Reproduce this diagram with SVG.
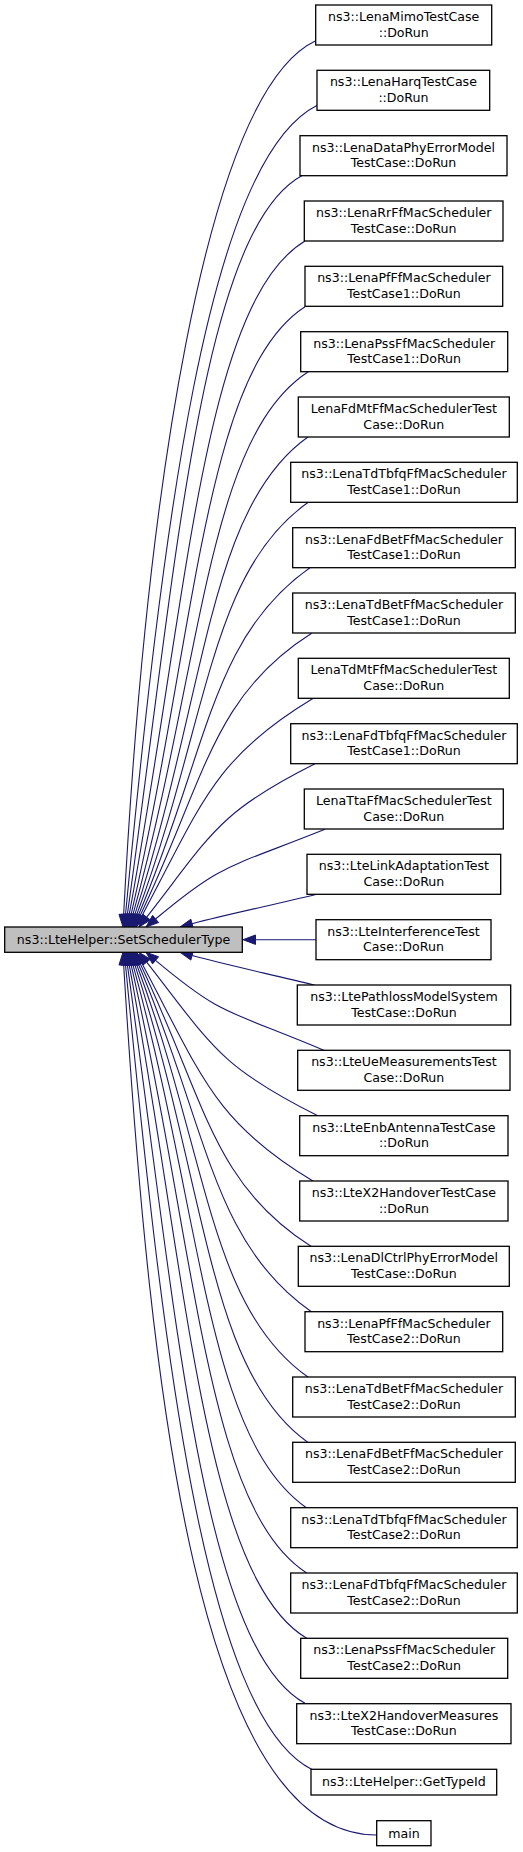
<svg xmlns="http://www.w3.org/2000/svg" width="523" height="1852" viewBox="0 0 523 1852">
<style>
.node rect{fill:#ffffff;stroke:#000000;stroke-width:1.3}
.node.main rect{fill:#bfbfbf}
text{font-family:"DejaVu Sans","Liberation Sans",sans-serif;font-size:12.6px;text-anchor:middle;fill:#000000}
#edges path{fill:none;stroke:#191970;stroke-width:1.1}
#edges polygon{fill:#191970;stroke:#191970;stroke-width:1}
</style>
<rect width="523" height="1852" fill="#ffffff"/>
<g id="edges">
<path d="M315.7,40.7 C204.3,93.1 145.2,503.5 123.65,914.52"/><polygon points="123,927 128.34,914.77 118.96,914.27"/>
<path d="M317.3,105.3 C206.1,160.9 162.2,533.8 125.5,914.56"/><polygon points="124.3,927 130.18,915.01 120.82,914.11"/>
<path d="M301.7,175.7 C200.6,231.3 175.9,568.8 127.34,914.62"/><polygon points="125.6,927 131.99,915.27 122.69,913.97"/>
<path d="M305,241 C203,302.2 187.6,599.7 129.18,914.71"/><polygon points="126.9,927 133.8,915.57 124.56,913.85"/>
<path d="M305,306.7 C204.1,372.3 196.5,631.3 131.01,914.82"/><polygon points="128.2,927 135.59,915.88 126.43,913.76"/>
<path d="M308.3,371.7 C206.5,437.9 203,661.9 132.84,914.95"/><polygon points="129.5,927 137.37,916.21 128.31,913.69"/>
<path d="M308.3,436.7 C207.6,507.2 207,692.4 134.66,915.11"/><polygon points="130.8,927 139.13,916.56 130.19,913.66"/>
<path d="M308.3,502.3 C208.6,572.1 208.6,722.5 136.48,915.29"/><polygon points="132.1,927 140.88,916.94 132.08,913.64"/>
<path d="M310,567.7 C210.4,637.4 208,751.3 138.28,915.49"/><polygon points="133.4,927 142.61,917.33 133.95,913.65"/>
<path d="M311.7,633.3 C212.2,696 205.5,778.5 140.08,915.72"/><polygon points="134.7,927 144.32,917.74 135.84,913.7"/>
<path d="M313.3,698.3 C213.9,757.9 201.8,803.4 141.87,915.96"/><polygon points="136,927 146.02,918.17 137.72,913.75"/>
<path d="M315,763.7 C217.4,812.5 211.2,834.6 146.7,917.15"/><polygon points="139,927 150.4,920.04 143,914.26"/>
<path d="M325,829.3 C226.7,868.6 223.2,862.3 155.58,918.96"/><polygon points="146,927 158.6,922.56 152.56,915.36"/>
<path d="M316.7,894.3 C276.7,904.3 230.7,913.4 192.07,923.76"/><polygon points="180,927 193.29,928.3 190.85,919.22"/>
<path d="M316,939.7 L255.5,939.7"/><polygon points="243,939.7 255.5,935 255.5,944.4"/>
<path d="M315,985.3 C275,975.3 230.7,965.9 192.07,955.54"/><polygon points="180,952.3 193.29,951 190.85,960.08"/>
<path d="M325,1050.7 C226.7,1009.4 223.2,1017.1 155.58,960.34"/><polygon points="146,952.3 158.6,956.74 152.56,963.94"/>
<path d="M318.3,1116 C218.8,1066.2 212,1045.7 146.7,962.15"/><polygon points="139,952.3 150.4,959.26 143,965.04"/>
<path d="M313.3,1181.3 C213.9,1121.7 201.8,1076 141.87,963.34"/><polygon points="136,952.3 146.02,961.13 137.72,965.55"/>
<path d="M311.7,1246.7 C212.2,1184 205.7,1101.1 140.08,963.58"/><polygon points="134.7,952.3 144.32,961.56 135.84,965.6"/>
<path d="M311.7,1312 C211.1,1241.6 208.2,1128.5 138.28,963.81"/><polygon points="133.4,952.3 142.61,961.97 133.95,965.65"/>
<path d="M308.3,1377.3 C208.6,1307.5 208.6,1156.9 136.48,964.01"/><polygon points="132.1,952.3 140.88,962.36 132.08,965.66"/>
<path d="M308.3,1442.7 C207.6,1372.2 207.1,1186.9 134.66,964.19"/><polygon points="130.8,952.3 139.13,962.74 130.19,965.64"/>
<path d="M306.7,1508 C205.9,1437.4 203,1217.4 132.84,964.35"/><polygon points="129.5,952.3 137.37,963.09 128.31,965.61"/>
<path d="M306.7,1573 C204.8,1506.8 196.6,1248.4 131.01,964.48"/><polygon points="128.2,952.3 135.59,963.42 126.43,965.54"/>
<path d="M306.7,1638.3 C203.7,1576.5 187.6,1279.8 129.18,964.59"/><polygon points="126.9,952.3 133.8,963.73 124.56,965.45"/>
<path d="M305,1703.3 C202,1646.6 176,1310.8 127.34,964.68"/><polygon points="125.6,952.3 131.99,964.03 122.69,965.33"/>
<path d="M312,1769.5 C203.8,1715.4 161.9,1343 125.5,964.74"/><polygon points="124.3,952.3 130.18,964.29 120.82,965.19"/>
<path d="M376.7,1835 C200,1835 150,1400 123.65,964.78"/><polygon points="123,952.3 128.34,964.53 118.96,965.03"/>
</g>
<g id="node-center" class="node main"><rect x="4.7" y="927" width="237.6" height="25.3"/><text x="123.5" y="943.9">ns3::LteHelper::SetSchedulerType</text></g>
<g id="node0" class="node"><rect x="315.7" y="5" width="176" height="40"/><text x="403.7" y="20.8">ns3::LenaMimoTestCase</text><text x="403.7" y="36.7">::DoRun</text></g>
<g id="node1" class="node"><rect x="317" y="70.3" width="172.7" height="40"/><text x="403.4" y="86.1">ns3::LenaHarqTestCase</text><text x="403.4" y="102">::DoRun</text></g>
<g id="node2" class="node"><rect x="300" y="135.7" width="207" height="40"/><text x="403.5" y="151.5">ns3::LenaDataPhyErrorModel</text><text x="403.5" y="167.4">TestCase::DoRun</text></g>
<g id="node3" class="node"><rect x="304.3" y="201" width="198.7" height="40"/><text x="403.7" y="216.8">ns3::LenaRrFfMacScheduler</text><text x="403.7" y="232.7">TestCase::DoRun</text></g>
<g id="node4" class="node"><rect x="305" y="266.3" width="197.7" height="40"/><text x="403.9" y="282.1">ns3::LenaPfFfMacScheduler</text><text x="403.9" y="298">TestCase1::DoRun</text></g>
<g id="node5" class="node"><rect x="300.7" y="331.7" width="207" height="40"/><text x="404.2" y="347.5">ns3::LenaPssFfMacScheduler</text><text x="404.2" y="363.4">TestCase1::DoRun</text></g>
<g id="node6" class="node"><rect x="298.3" y="397" width="211" height="40"/><text x="403.8" y="412.8">LenaFdMtFfMacSchedulerTest</text><text x="403.8" y="428.7">Case::DoRun</text></g>
<g id="node7" class="node"><rect x="290.7" y="462.3" width="226.6" height="40"/><text x="404" y="478.1">ns3::LenaTdTbfqFfMacScheduler</text><text x="404" y="494">TestCase1::DoRun</text></g>
<g id="node8" class="node"><rect x="292.7" y="527.7" width="222.6" height="40"/><text x="404" y="543.5">ns3::LenaFdBetFfMacScheduler</text><text x="404" y="559.4">TestCase1::DoRun</text></g>
<g id="node9" class="node"><rect x="292.7" y="593" width="222.6" height="40"/><text x="404" y="608.8">ns3::LenaTdBetFfMacScheduler</text><text x="404" y="624.7">TestCase1::DoRun</text></g>
<g id="node10" class="node"><rect x="298.3" y="658.3" width="211" height="40"/><text x="403.8" y="674.1">LenaTdMtFfMacSchedulerTest</text><text x="403.8" y="690">Case::DoRun</text></g>
<g id="node11" class="node"><rect x="290.7" y="723.7" width="226.6" height="40"/><text x="404" y="739.5">ns3::LenaFdTbfqFfMacScheduler</text><text x="404" y="755.4">TestCase1::DoRun</text></g>
<g id="node12" class="node"><rect x="304.3" y="789" width="199" height="40"/><text x="403.8" y="804.8">LenaTtaFfMacSchedulerTest</text><text x="403.8" y="820.7">Case::DoRun</text></g>
<g id="node13" class="node"><rect x="307" y="854.3" width="193.7" height="40"/><text x="403.9" y="870.1">ns3::LteLinkAdaptationTest</text><text x="403.9" y="886">Case::DoRun</text></g>
<g id="node14" class="node"><rect x="316" y="919.7" width="175" height="40"/><text x="403.5" y="935.5">ns3::LteInterferenceTest</text><text x="403.5" y="951.4">Case::DoRun</text></g>
<g id="node15" class="node"><rect x="297.3" y="985" width="213.4" height="40"/><text x="404" y="1000.8">ns3::LtePathlossModelSystem</text><text x="404" y="1016.7">TestCase::DoRun</text></g>
<g id="node16" class="node"><rect x="297.7" y="1050.3" width="212.3" height="40"/><text x="403.9" y="1066.1">ns3::LteUeMeasurementsTest</text><text x="403.9" y="1082">Case::DoRun</text></g>
<g id="node17" class="node"><rect x="299.7" y="1115.7" width="208.3" height="40"/><text x="403.9" y="1131.5">ns3::LteEnbAntennaTestCase</text><text x="403.9" y="1147.4">::DoRun</text></g>
<g id="node18" class="node"><rect x="299.7" y="1181" width="208.3" height="40"/><text x="403.9" y="1196.8">ns3::LteX2HandoverTestCase</text><text x="403.9" y="1212.7">::DoRun</text></g>
<g id="node19" class="node"><rect x="298.3" y="1246.3" width="211" height="40"/><text x="403.8" y="1262.1">ns3::LenaDlCtrlPhyErrorModel</text><text x="403.8" y="1278">TestCase::DoRun</text></g>
<g id="node20" class="node"><rect x="305" y="1311.7" width="197.7" height="40"/><text x="403.9" y="1327.5">ns3::LenaPfFfMacScheduler</text><text x="403.9" y="1343.4">TestCase2::DoRun</text></g>
<g id="node21" class="node"><rect x="292.7" y="1377" width="222.6" height="40"/><text x="404" y="1392.8">ns3::LenaTdBetFfMacScheduler</text><text x="404" y="1408.7">TestCase2::DoRun</text></g>
<g id="node22" class="node"><rect x="292.7" y="1442.3" width="222.6" height="40"/><text x="404" y="1458.1">ns3::LenaFdBetFfMacScheduler</text><text x="404" y="1474">TestCase2::DoRun</text></g>
<g id="node23" class="node"><rect x="290.7" y="1507.7" width="226.6" height="40"/><text x="404" y="1523.5">ns3::LenaTdTbfqFfMacScheduler</text><text x="404" y="1539.4">TestCase2::DoRun</text></g>
<g id="node24" class="node"><rect x="290.7" y="1573" width="226.6" height="40"/><text x="404" y="1588.8">ns3::LenaFdTbfqFfMacScheduler</text><text x="404" y="1604.7">TestCase2::DoRun</text></g>
<g id="node25" class="node"><rect x="300.7" y="1638.3" width="207" height="40"/><text x="404.2" y="1654.1">ns3::LenaPssFfMacScheduler</text><text x="404.2" y="1670">TestCase2::DoRun</text></g>
<g id="node26" class="node"><rect x="296.7" y="1703.7" width="214.3" height="40"/><text x="403.9" y="1719.5">ns3::LteX2HandoverMeasures</text><text x="403.9" y="1735.4">TestCase::DoRun</text></g>
<g id="node27" class="node"><rect x="311" y="1769.3" width="185.7" height="25.7"/><text x="403.9" y="1786.4">ns3::LteHelper::GetTypeId</text></g>
<g id="node28" class="node"><rect x="376.7" y="1820.7" width="54.3" height="25"/><text x="403.9" y="1837.5">main</text></g>
</svg>
